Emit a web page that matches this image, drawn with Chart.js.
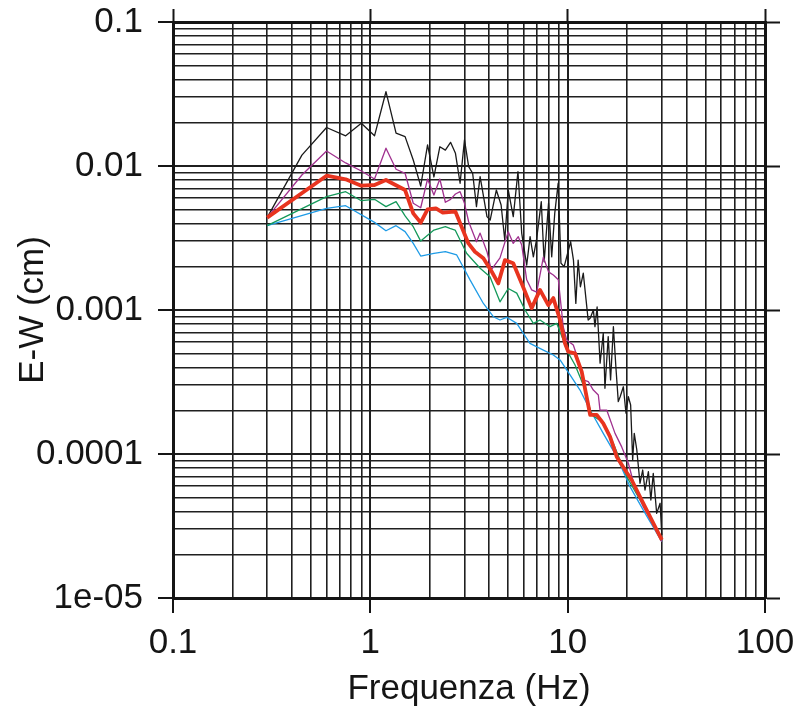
<!DOCTYPE html>
<html><head><meta charset="utf-8">
<script src="https://cdn.jsdelivr.net/npm/chart.js@4/dist/chart.umd.min.js"></script>
<style>html,body{margin:0;padding:0;background:#fff;} #wrap{width:802px;height:711px;}</style>
</head><body><div id="wrap"><canvas id="c" width="802" height="711"></canvas></div>
<script>
// ---- axes ----
const xDecades = [0.1, 1, 10, 100];
const xTickLabels = ['0.1', '1', '10', '100'];
const yDecades = [1e-5, 1e-4, 1e-3, 1e-2, 1e-1];
const yTickLabels = ['1e-05', '0.0001', '0.001', '0.01', '0.1'];
const minorSteps = [2, 3, 4, 5, 6, 7, 8, 9];
const xTitle = 'Frequenza (Hz)';
const yTitle = 'E-W (cm)';

// ---- series (frequency in Hz, amplitude in cm) ----
const blackFreq = [0.3,0.45,0.6,0.75,0.9,1.05,1.2,1.35,1.5,1.65,1.8,1.95,2.1,2.25,2.4,2.55,2.7,2.85,3.0,3.15,3.3,3.45,3.6,3.9,4.05,4.35,4.6,4.8,5.0,5.3,5.6,5.85,6.2,6.45,6.7,6.95,7.35,7.6,8.0,8.3,8.6,8.95,9.25,9.6,10.35,10.7,11.0,11.3,11.6,12.0,12.4,12.7,13.0,13.5,13.75,14.1,14.6,15.15,15.45,16.05,16.5,17.05,17.55,18.05,18.45,19.15,19.75,20.3,20.85,21.35,21.75,22.4,23.25,24.0,24.65,25.65,26.4,27.15,28.25,29.4,30.0];
const blackAmp = [4.38e-3,1.19e-2,1.85e-2,1.62e-2,1.98e-2,1.62e-2,3.28e-2,1.69e-2,1.60e-2,1.10e-2,7.26e-3,1.40e-2,8.39e-3,1.36e-2,1.29e-2,1.46e-2,1.225e-2,7.59e-3,1.52e-2,9.89e-3,8.90e-3,5.22e-3,8.43e-3,4.45e-3,4.22e-3,6.81e-3,5.36e-3,3.06e-3,6.81e-3,4.45e-3,9.13e-3,3.41e-3,2.05e-3,3.23e-3,2.34e-3,3.06e-3,5.65e-3,2.16e-3,5.51e-3,2.34e-3,4.69e-3,7.59e-3,2.11e-3,2.00e-3,2.98e-3,2.22e-3,1.11e-3,2.22e-3,1.45e-3,1.80e-3,1.17e-3,8.52e-4,8.76e-4,1.00e-3,7.66e-4,1.05e-3,4.27e-4,6.89e-4,2.86e-4,6.53e-4,3.27e-4,7.66e-4,4.04e-4,2.31e-4,2.50e-4,2.93e-4,1.92e-4,2.50e-4,2.19e-4,9.08e-5,1.39e-4,1.07e-4,6.26e-5,7.74e-5,5.62e-5,7.54e-5,4.79e-5,7.34e-5,3.87e-5,4.55e-5,2.74e-5];

const purpleFreq = [0.3,0.45,0.6,0.75,0.9,1.05,1.2,1.35,1.5,1.65,1.8,1.95,2.1,2.25,2.4,2.55,2.7,2.85,3.0,3.15,3.45,3.6,3.9,4.1,4.54,5.0,5.3,5.62,5.85,6.2,6.57,6.97,7.53,8.0,8.46,8.97,9.5,9.89,10.68,11.32,12.0,12.72,13.49,14.3,14.58,15.77,17.38,18.79,20.3,21.94,24.17,26.67,30.0];
const purpleAmp = [4.38e-3,8.66e-3,1.27e-2,1.05e-2,9.23e-3,8.12e-3,1.33e-2,9.49e-3,8.90e-3,5.51e-3,5.13e-3,8.12e-3,6.29e-3,8.12e-3,5.60e-3,5.87e-3,6.39e-3,6.63e-3,5.51e-3,4.10e-3,2.98e-3,3.42e-3,2.54e-3,1.90e-3,2.30e-3,3.50e-3,2.90e-3,3.23e-3,2.83e-3,1.62e-3,1.38e-3,1.33e-3,2.33e-3,1.84e-3,1.75e-3,1.62e-3,7.62e-4,6.19e-4,5.71e-4,4.50e-4,3.27e-4,3.18e-4,2.78e-4,2.57e-4,2.02e-4,2.02e-4,1.39e-4,1.12e-4,8.62e-5,5.78e-5,4.31e-5,3.39e-5,2.46e-5];

const redFreq = [0.3,0.6,0.75,0.9,1.05,1.2,1.5,1.65,1.8,1.95,2.15,2.33,2.58,2.7,2.9,3.14,3.39,3.74,4.12,4.45,4.81,5.3,5.85,6.57,7.24,7.98,8.46,9.15,9.69,10.07,10.9,11.78,13.0,14.04,15.15,16.39,17.72,19.53,21.11,23.26,25.63,28.26,30.0];
const redAmp = [4.38e-3,8.56e-3,8.08e-3,7.30e-3,7.38e-3,7.99e-3,6.81e-3,4.69e-3,4.04e-3,5.00e-3,5.08e-3,4.74e-3,4.81e-3,4.81e-3,3.79e-3,2.90e-3,2.54e-3,2.29e-3,1.85e-3,1.53e-3,2.22e-3,2.11e-3,1.53e-3,1.03e-3,1.38e-3,1.08e-3,1.21e-3,8.52e-4,5.87e-4,5.13e-4,5.00e-4,3.73e-4,1.87e-4,1.87e-4,1.63e-4,1.32e-4,9.58e-5,7.74e-5,6.60e-5,5.05e-5,3.87e-5,2.97e-5,2.53e-5];

const greenFreq = [0.3,0.6,0.75,0.9,1.05,1.2,1.35,1.5,1.65,1.8,2.1,2.4,2.53,2.69,3.08,3.6,4.04,4.54,5.0,5.52,6.08,6.7,7.24,8.14,8.8,9.5,9.89,10.9,12.0,13.24,14.88,17.03,19.92,23.26,26.15,30.0];
const greenAmp = [3.85e-3,6.12e-3,6.63e-3,5.74e-3,5.87e-3,5.22e-3,5.65e-3,4.50e-3,3.79e-3,3.01e-3,3.59e-3,3.79e-3,3.69e-3,3.59e-3,2.47e-3,1.95e-3,1.70e-3,1.14e-3,1.41e-3,1.31e-3,1.00e-3,8.08e-4,8.52e-4,7.66e-4,8.08e-4,6.19e-4,5.27e-4,4.15e-4,3.01e-4,1.87e-4,1.68e-4,1.19e-4,6.96e-5,4.79e-5,3.67e-5,2.46e-5];

const blueFreq = [0.3,0.6,0.75,1.05,1.2,1.35,1.5,1.65,1.8,2.1,2.4,2.74,3.2,3.74,4.2,4.54,4.91,5.52,6.44,7.53,8.46,9.15,10.28,11.55,13.0,15.15,17.72,20.7,24.17,30.0];
const blueAmp = [3.85e-3,5.08e-3,5.30e-3,4.06e-3,3.55e-3,3.85e-3,3.50e-3,2.90e-3,2.37e-3,2.47e-3,2.54e-3,2.41e-3,1.62e-3,1.11e-3,8.98e-4,8.52e-4,8.90e-4,8.08e-4,5.87e-4,5.27e-4,4.87e-4,4.50e-4,3.54e-4,2.78e-4,2.02e-4,1.39e-4,9.58e-5,5.93e-5,4.08e-5,2.46e-5];

// ---- helpers ----
const FONT = "'Liberation Sans', Arial, Helvetica, sans-serif";
const GRID = '#1f1f1f';
const INK = '#151515';
function isDecade(v) { const l = Math.log10(v); return Math.abs(l - Math.round(l)) < 1e-6; }
function logTicks(decades) {
  const t = [];
  decades.forEach((d, i) => {
    t.push({ value: d, major: true });
    if (i < decades.length - 1) minorSteps.forEach(m => t.push({ value: d * m, major: false }));
  });
  return t;
}
function labelFor(decades, labels) {
  return (v) => { const i = decades.findIndex(d => Math.abs(d - v) / d < 1e-6); return i >= 0 ? labels[i] : ''; };
}
function pts(f, a) { return f.map((x, i) => ({ x: x, y: a[i] })); }
const tickCol = ctx => (ctx.tick && isDecade(ctx.tick.value)) ? INK : 'rgba(0,0,0,0)';
const gridW = ctx => (ctx.tick && isDecade(ctx.tick.value)) ? 2.0 : 1.6;
function fixSize(prop, size) {
  return s => { s[prop] = size; s.paddingTop = 0; s.paddingBottom = 0; s.paddingLeft = 0; s.paddingRight = 0; };
}

function series(label, f, a, color, w, order) {
  return { label, data: pts(f, a), borderColor: color, backgroundColor: color, borderWidth: w,
    pointRadius: 0, tension: 0, fill: false, order, borderJoinStyle: 'round' };
}

new Chart(document.getElementById('c'), {
  type: 'line',
  data: {
    datasets: [
      series('red', redFreq, redAmp, '#e8341f', 3.8, 0),
      series('purple', purpleFreq, purpleAmp, '#a0318f', 1.3, 1),
      series('green', greenFreq, greenAmp, '#14995a', 1.3, 2),
      series('blue', blueFreq, blueAmp, '#1e9be6', 1.3, 3),
      series('black', blackFreq, blackAmp, '#1a1a1a', 1.3, 4)
    ]
  },
  options: {
    responsive: false,
    animation: false,
    layout: { padding: 0 },
    plugins: { legend: { display: false }, tooltip: { enabled: false } },
    scales: {
      x: {
        type: 'logarithmic', position: 'bottom', min: 0.1, max: 100,
        afterBuildTicks: s => { s.ticks = logTicks(xDecades); },
        afterFit: fixSize('height', 113),
        ticks: { autoSkip: false, maxRotation: 0, minRotation: 0, padding: 9, color: INK,
          font: { family: FONT, size: 35 }, callback: labelFor(xDecades, xTickLabels) },
        grid: { color: GRID, lineWidth: gridW, drawTicks: true, tickLength: 15, tickWidth: 2, tickColor: tickCol },
        border: { display: true, color: INK, width: 3 },
        title: { display: true, text: xTitle, color: INK, font: { family: FONT, size: 35 }, padding: { top: 0, bottom: 1 } }
      },
      x2: {
        type: 'logarithmic', position: 'top', min: 0.1, max: 100,
        afterBuildTicks: s => { s.ticks = logTicks(xDecades); },
        afterFit: fixSize('height', 22),
        ticks: { display: false },
        grid: { drawOnChartArea: false, drawTicks: true, tickLength: 13, tickWidth: 2, tickColor: tickCol },
        border: { display: true, color: INK, width: 3 }
      },
      y: {
        type: 'logarithmic', position: 'left', min: 1e-5, max: 0.1,
        afterBuildTicks: s => { s.ticks = logTicks(yDecades); },
        afterFit: fixSize('width', 173),
        ticks: { autoSkip: false, padding: 15, color: INK,
          font: { family: FONT, size: 35 }, callback: labelFor(yDecades, yTickLabels) },
        grid: { color: GRID, lineWidth: gridW, drawTicks: true, tickLength: 15, tickWidth: 2, tickColor: tickCol },
        border: { display: true, color: INK, width: 3 },
        title: { display: true, text: yTitle, color: INK, font: { family: FONT, size: 35 }, padding: { top: 12, bottom: 0 } }
      },
      y2: {
        type: 'logarithmic', position: 'right', min: 1e-5, max: 0.1,
        afterBuildTicks: s => { s.ticks = logTicks(yDecades); },
        afterFit: fixSize('width', 37),
        ticks: { display: false },
        grid: { drawOnChartArea: false, drawTicks: true, tickLength: 15, tickWidth: 2, tickColor: tickCol },
        border: { display: true, color: INK, width: 3 }
      }
    }
  }
});
</script>
</body></html>
